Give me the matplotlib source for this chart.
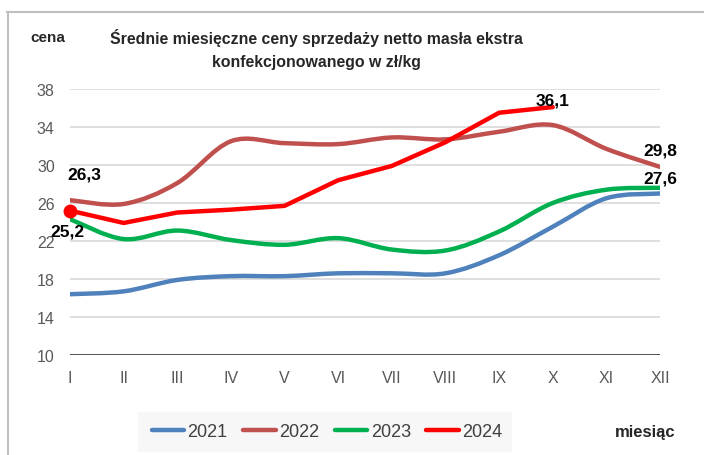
import matplotlib
matplotlib.use("Agg")
import matplotlib.pyplot as plt
from matplotlib.path import Path
from matplotlib.patches import PathPatch, Rectangle
from matplotlib.lines import Line2D

plt.rcParams['font.family'] = ['Liberation Sans', 'DejaVu Sans']

months = ['I', 'II', 'III', 'IV', 'V', 'VI', 'VII', 'VIII', 'IX', 'X', 'XI', 'XII']
y2021 = [16.4, 16.7, 17.9, 18.3, 18.3, 18.6, 18.6, 18.6, 20.5, 23.5, 26.5, 27.0]
y2022 = [26.3, 25.9, 28.1, 32.5, 32.3, 32.2, 32.9, 32.7, 33.5, 34.2, 31.7, 29.8]
y2023 = [24.3, 22.2, 23.1, 22.1, 21.6, 22.3, 21.1, 21.0, 23.0, 26.0, 27.4, 27.6]
y2024 = [25.2, 23.9, 25.0, 25.3, 25.7, 28.4, 29.9, 32.4, 35.5, 36.1]
yticks = [10, 14, 18, 22, 26, 30, 34, 38]

c2021 = '#4f81bd'
c2022 = '#c0504d'
c2023 = '#00b050'
c2024 = '#ff0000'
lw = 3.2


def smooth_path(xs, ys):
    # Excel-style smoothed line: Catmull-Rom turned into cubic Bezier segments
    pts = list(zip(xs, ys))
    verts = [pts[0]]
    codes = [Path.MOVETO]
    n = len(pts)
    for i in range(n - 1):
        p0 = pts[i - 1] if i > 0 else pts[i]
        p1 = pts[i]
        p2 = pts[i + 1]
        p3 = pts[i + 2] if i + 2 < n else pts[i + 1]
        c1 = (p1[0] + (p2[0] - p0[0]) / 6, p1[1] + (p2[1] - p0[1]) / 6)
        c2 = (p2[0] - (p3[0] - p1[0]) / 6, p2[1] - (p3[1] - p1[1]) / 6)
        verts += [c1, c2, p2]
        codes += [Path.CURVE4] * 3
    return Path(verts, codes)


fig = plt.figure(figsize=(7.04, 4.56), dpi=100)
ax = fig.add_axes([70 / 704, 1 - 356 / 456, 590 / 704, 266 / 456])

x = list(range(len(months)))
for val in yticks[1:]:
    ax.axhline(val, color='#d9d9d9', lw=1.2, zorder=0)
ax.axhline(10, color='#404040', lw=2, zorder=1)

for ys, col in [(y2021, c2021), (y2022, c2022), (y2023, c2023)]:
    ax.add_patch(PathPatch(smooth_path(x, ys), facecolor='none', edgecolor=col,
                           lw=lw, capstyle='round', zorder=3))
ax.plot(x[:len(y2024)], y2024, color=c2024, lw=lw, zorder=4, solid_capstyle='round')
ax.plot(x[0], y2024[0], 'o', color=c2024, ms=9, zorder=5, clip_on=False)

ax.set_xlim(0, 11)
ax.set_ylim(10, 38)
ax.set_yticks(yticks)
ax.set_xticks(x)
ax.set_xticklabels(months)
for s in ax.spines.values():
    s.set_visible(False)
ax.tick_params(length=0, colors='#595959', labelsize=11.5)
ax.tick_params(axis='y', pad=11)
ax.tick_params(axis='x', pad=11)

lab = dict(textcoords='offset pixels', ha='center', va='center',
           fontsize=12.5, fontweight='bold', color='black', zorder=6)
ax.annotate('26,3', (0, y2022[0]), xytext=(14, 26), **lab)
ax.annotate('25,2', (0, y2024[0]), xytext=(-3, -20), **lab)
ax.annotate('36,1', (9, y2024[9]), xytext=(0, 7), **lab)
ax.annotate('29,8', (11, y2022[11]), xytext=(0, 17), **lab)
ax.annotate('27,6', (11, y2023[11]), xytext=(0, 10), **lab)

# titles
fig.text(48 / 704, 1 - 38 / 456, 'cena', ha='center', va='center',
         fontsize=11, fontweight='bold', color='#262626')
fig.text(316 / 704, 1 - 38 / 456, 'Średnie miesięczne ceny sprzedaży netto masła ekstra',
         ha='center', va='center', fontsize=11.4, fontweight='bold', color='#262626')
fig.text(316 / 704, 1 - 62 / 456, 'konfekcjonowanego w zł/kg',
         ha='center', va='center', fontsize=11.4, fontweight='bold', color='#262626')
fig.text(645 / 704, 1 - 433 / 456, 'miesiąc', ha='center', va='center',
         fontsize=12, fontweight='bold', color='#262626')

# outer frame (top and left edges visible)
fig.add_artist(Line2D([7 / 704, 1], [1 - 13 / 456] * 2, color='#bfbfbf', lw=1.5))
fig.add_artist(Line2D([8 / 704] * 2, [0, 1 - 13 / 456], color='#bfbfbf', lw=1.5))

# legend box
fig.add_artist(Rectangle((138 / 704, 1 - 453 / 456), 374 / 704, 40 / 456,
                         transform=fig.transFigure, facecolor='#f7f7f7',
                         edgecolor='none', zorder=0))
handles = [Line2D([], [], color=c, lw=lw, solid_capstyle='round')
           for c in (c2021, c2022, c2023, c2024)]
fig.legend(handles, ['2021', '2022', '2023', '2024'], ncol=4, frameon=False,
           loc='center', bbox_to_anchor=(327 / 704, 1 - 433 / 456),
           fontsize=13, handlelength=1.8, handletextpad=0.2, columnspacing=0.85,
           labelcolor='#404040', borderpad=0, borderaxespad=0)

fig.savefig('out.png', dpi=100)
